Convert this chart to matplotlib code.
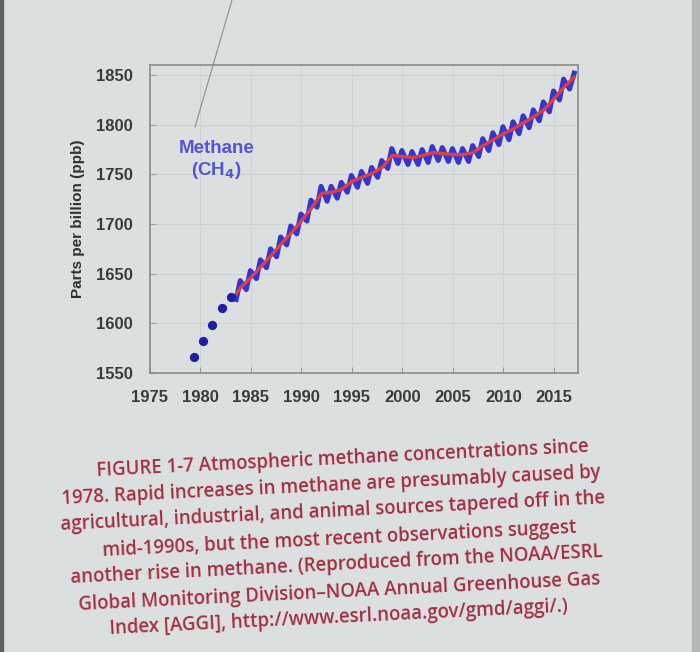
import numpy as np
import matplotlib
matplotlib.use("Agg")
import matplotlib.pyplot as plt
from matplotlib.patches import Rectangle
from matplotlib.lines import Line2D

# early annual points (dots)
dot_years = [1979.4, 1980.3, 1981.2, 1982.1, 1983.0]
dot_ppb = [1566, 1582, 1598, 1615, 1627]

# seasonal extremes of the monthly record (peaks ~ Jan, troughs ~ Jul)
peak_years = list(range(1984, 2017))
peak_ppb = [1643, 1653, 1664, 1675, 1687, 1698, 1710, 1724, 1738, 1738,
            1742, 1749, 1753, 1757, 1764, 1776, 1774, 1773, 1775, 1778,
            1777, 1776, 1776, 1779, 1786, 1792, 1798, 1803, 1809, 1815,
            1823, 1834, 1846]
trough_years = list(range(1983, 2017))
trough_ppb = [1624, 1634, 1645, 1656, 1667, 1679, 1690, 1703, 1717, 1723,
              1726, 1732, 1737, 1741, 1747, 1756, 1761, 1760, 1760, 1762,
              1764, 1763, 1762, 1763, 1768, 1774, 1780, 1785, 1791, 1797,
              1804, 1813, 1825, 1836]
end_year, end_ppb = 2017.0, 1852

# deseasonalised trend (red)
trend_years = [1983.6, 1984, 1985, 1986, 1987, 1988, 1989, 1990, 1991, 1992,
               1993, 1994, 1995, 1996, 1997, 1998, 1999, 2000, 2001, 2002,
               2003, 2004, 2005, 2006, 2007, 2008, 2009, 2010, 2011, 2012,
               2013, 2014, 2015, 2016, 2017.0]
trend_ppb = [1630, 1636, 1646, 1657, 1668, 1680, 1691, 1703, 1716, 1731,
             1732, 1735, 1743, 1747, 1751, 1757, 1769, 1768, 1767, 1769,
             1772, 1771, 1770, 1770, 1772, 1779, 1785, 1791, 1796, 1802,
             1808, 1815, 1826, 1838, 1848]

x_ticks = [1975, 1980, 1985, 1990, 1995, 2000, 2005, 2010, 2015]
y_ticks = [1550, 1600, 1650, 1700, 1750, 1800, 1850]

caption = [
    "FIGURE 1-7 Atmospheric methane concentrations since",
    "1978. Rapid increases in methane are presumably caused by",
    "agricultural, industrial, and animal sources tapered off in the",
    "mid-1990s, but the most recent observations suggest",
    "another rise in methane. (Reproduced from the NOAA/ESRL",
    "Global Monitoring Division\u2013NOAA Annual Greenhouse Gas",
    "Index [AGGI], http://www.esrl.noaa.gov/gmd/aggi/.)",
]

bg = "#dcdfdf"
fig = plt.figure(figsize=(7, 6.52), dpi=100, facecolor=bg)

# page edges from the photo
fig.add_artist(Rectangle((0, 0), 0.004, 1, transform=fig.transFigure,
                         color="#5e6062", zorder=0))
fig.add_artist(Rectangle((0.988, 0), 0.012, 1, transform=fig.transFigure,
                         color="#b4b7b8", zorder=0))
fig.add_artist(Line2D([232 / 700, 195 / 700], [1, 1 - 127 / 652],
                      transform=fig.transFigure, color="#8c8f90", lw=0.8))

ax = fig.add_axes([0.214, 0.428, 0.612, 0.472])
ax.set_facecolor(bg)

# interleave troughs and peaks into one zigzag record
sx, sy = [], []
for i, ty in enumerate(trough_years):
    sx.append(ty + 0.55)
    sy.append(trough_ppb[i])
    if i < len(peak_years):
        sx.append(peak_years[i] - 0.05)
        sy.append(peak_ppb[i])
sx.append(end_year)
sy.append(end_ppb)

ax.plot(sx, sy, color="#3636cc", lw=3.6, solid_joinstyle="round", zorder=2)
ax.plot(trend_years, trend_ppb, color="#d8404c", lw=2.4, zorder=3)
ax.scatter(dot_years, dot_ppb, s=32, color="#1f1fa3", zorder=4)

ax.text(1981.6, 1764, "Methane\n(CH$_\\mathbf{4}$)", color="#5454d6",
        fontsize=13.5, fontweight="bold", ha="center", va="center",
        family="Liberation Sans", linespacing=1.25)

ax.set_xlim(1975, 2017.4)
ax.set_ylim(1550, 1860)
ax.set_xticks(x_ticks)
ax.set_yticks(y_ticks)
ax.grid(color="#cfd2d2", lw=0.7)
ax.set_axisbelow(True)
for s in ax.spines.values():
    s.set_color("#8a8c8c")
    s.set_linewidth(1.2)
ax.tick_params(direction="in", length=4, color="#9a9c9c")
ax.tick_params(axis="y", pad=12)
ax.tick_params(axis="x", pad=12)
for lab in ax.get_xticklabels() + ax.get_yticklabels():
    lab.set_family("Liberation Sans")
    lab.set_fontweight("bold")
    lab.set_fontsize(12)
    lab.set_color("#3a3a3a")
ax.set_ylabel("Parts per billion (ppb)", fontsize=11, fontweight="bold",
              family="Liberation Sans", color="#303030", labelpad=8)

# caption lines (photo is tilted slightly)
cap_y = [459, 486, 512, 539, 565, 592, 618]
cap_x = [343, 331, 333, 339, 337, 339, 339]
for txt, px, py in zip(caption, cap_x, cap_y):
    fig.text(px / 700, 1 - py / 652, txt, color="#a22f40", fontsize=13.4,
             family=["Open Sans", "DejaVu Sans"], fontweight="semibold",
             ha="center", va="center", rotation=2.8, rotation_mode="anchor")

fig.savefig("out.png", dpi=100, facecolor=bg)
